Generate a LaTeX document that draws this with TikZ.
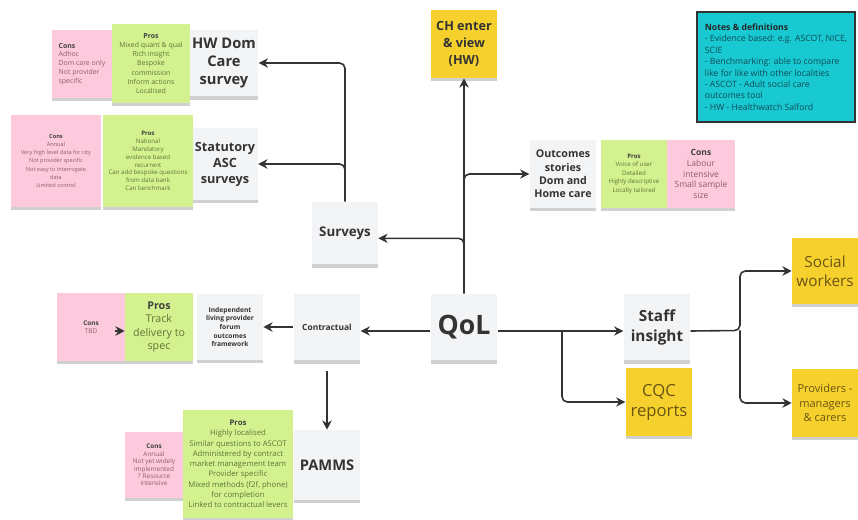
\documentclass[tikz,border=0pt]{standalone}
\usepackage{fontspec}
\setmainfont{Open Sans}
\usepackage{xcolor}
\usepackage{tikz}
\usetikzlibrary{arrows.meta}
\usetikzlibrary{shadows}
\definecolor{cardgrey}{HTML}{F3F4F6}
\definecolor{notegreen}{HTML}{D3F28F}
\definecolor{notepink}{HTML}{FCCADC}
\definecolor{noteyellow}{HTML}{F6D12E}
\definecolor{noteteal}{HTML}{18C9D1}
\definecolor{inkdark}{HTML}{333333}
\definecolor{inkgreen}{HTML}{5E7436}
\definecolor{inkpink}{HTML}{8C5C6C}
\definecolor{inkolive}{HTML}{6B5512}
\definecolor{inkteal}{HTML}{0F4B55}
\newcommand{\sz}[2]{\fontsize{#1}{#2}\selectfont}
\newcommand{\notehead}[1]{{\bfseries\color{black!75}#1}}
\tikzset{
  paper/.style={general shadow={fill=black!60, opacity=0.3, shadow yshift=-2.5pt}, inner sep=2pt, align=center},
  card/.style={paper, fill=cardgrey, minimum width=#1, minimum height=#1, text=inkdark},
  card/.default=50pt,
  pronote/.style={paper, fill=notegreen, minimum width=#1, minimum height=#1, text=inkgreen},
  pronote/.default=50pt,
  connote/.style={paper, fill=notepink, minimum width=#1, minimum height=#1, text=inkpink},
  connote/.default=50pt,
  sticky/.style={paper, fill=noteyellow, minimum width=#1, minimum height=#1, text=inkolive},
  sticky/.default=50pt,
  link/.style={-{Stealth[length=7pt,width=7pt]}, line width=1.2pt, draw=inkdark, rounded corners=4pt},
}

\begin{document}
\begin{tikzpicture}[
    x=0.75pt, y=-0.75pt,
    notebox/.style={draw=black!80, line width=1.5pt, fill=noteteal, align=left, minimum width=118.5pt, minimum height=82.5pt, inner sep=3pt, text=inkteal, font=\sz{6.5}{8.6}},
  ]
  \path[use as bounding box, fill=white] (0,0) rectangle (858,520);

  \node[card, font=\sz{11}{13.5}\bfseries] (hwdom) at (224,63) {HW Dom\\Care\\survey};
  \node[pronote=58.5pt, minimum height=59pt, font=\sz{5.2}{6.8}] (pros1) at (151,63.5) {\notehead{Pros}\\Mixed quant \& qual\\Rich insight\\Bespoke\\commission\\Inform actions\\Localised};
  \node[connote=45pt, minimum height=51pt, align=left, font=\sz{5.2}{6.6}] (cons1) at (82,64) {\notehead{Cons}\\Adhoc\\Dom care only\\Not provider\\specific};

  \node[card=48pt, minimum height=54pt, font=\sz{9.5}{12}\bfseries] (statasc) at (225,164) {Statutory\\ASC\\surveys};
  \node[pronote=68pt, minimum height=69pt, font=\sz{4.6}{5.9}] (pros2) at (148,161) {\notehead{Pros}\\National\\Mandatory\\evidence based\\recurrent\\Can add bespoke questions\\from data bank\\Can benchmark};
  \node[connote=68pt, minimum height=69pt, font=\sz{4.2}{6.2}] (cons2) at (56,161) {\notehead{Cons}\\Annual\\Very high level data for city\\Not provider specific\\Not easy to interrogate\\data\\Limited control};

  \node[card=49.5pt, minimum height=47pt, font=\sz{10}{12}\bfseries] (surveys) at (345,233) {Surveys};
  \node[sticky=49pt, minimum height=51pt, text=black!80, font=\sz{9.5}{12.75}\bfseries] (chview) at (464,44) {CH enter\\\& view\\(HW)};

  \node[card, minimum height=51pt, font=\sz{8}{10}\bfseries] (outcomes) at (563,174) {Outcomes\\stories\\Dom and\\Home care};
  \node[pronote, minimum height=51pt, font=\sz{4.6}{6.4}] (pros5) at (634,174) {\notehead{Pros}\\Voice of user\\Detailed\\Highly descriptive\\Locally tailored};
  \node[connote=51pt, font=\sz{6.4}{7.9}] (cons5) at (701,174) {\notehead{Cons}\\Labour\\intensive\\Small sample\\size};

  \node[notebox] (notes) at (776,67) {{\bfseries\color{black!85}Notes \& definitions}\\- Evidence based: e.g. ASCOT, NICE,\\SCIE\\- Benchmarking: able to compare\\like for like with other localities\\- ASCOT - Adult social care\\outcomes tool\\- HW - Healthwatch Salford};

  \node[card, font=\sz{20}{24}\bfseries] (qol) at (464,327) {QoL};
  \node[card, font=\sz{6.3}{8}\bfseries] (contract) at (327,327) {Contractual};
  \node[card=49.5pt, font=\sz{5}{6.4}\bfseries] (indep) at (230,327) {Independent\\living provider\\forum\\outcomes\\framework};
  \node[pronote=51pt, font=\sz{8}{10}] (pros3) at (159,327) {\notehead{Pros}\\Track\\delivery to\\spec};
  \node[connote=51pt, font=\sz{4.8}{6}] (cons3) at (91,327) {\notehead{Cons}\\TBD};

  \node[card, minimum height=52.5pt, font=\sz{11}{13}\bfseries] (pamms) at (327,465) {PAMMS};
  \node[pronote=82.5pt, minimum height=81pt, font=\sz{5.8}{7.7}] (pros4) at (238,464) {\notehead{Pros}\\Highly localised\\Similar questions to ASCOT\\Administered by contract\\market management team\\Provider specific\\Mixed methods (f2f, phone)\\for completion\\Linked to contractual levers};
  \node[connote=43.5pt, minimum height=49.5pt, font=\sz{4.8}{5.6}] (cons4) at (154,465) {\notehead{Cons}\\Annual\\Not yet widely\\implemented\\? Resource\\intensive};

  \node[card, font=\sz{11.5}{15}\bfseries] (staff) at (657,327) {Staff\\insight};
  \node[sticky, minimum height=51pt, font=\sz{12.5}{15}] (cqc) at (659,402) {CQC\\reports};
  \node[sticky=49.5pt, font=\sz{11.5}{14}] (social) at (825,271) {Social\\workers};
  \node[sticky=49.5pt, minimum height=51pt, font=\sz{8.3}{11}] (providers) at (825,403) {Providers -\\managers\\\& carers};

  \coordinate (split) at (562,330.5);
  \coordinate (fork) at (740,330.5);

  \draw[link] (surveys.north) |- (hwdom.east);
  \draw[link] (surveys.north) |- (statasc.east);
  \draw[link] (qol.north) -- (chview.south);
  \draw[link] (qol.north) |- (outcomes.west);
  \draw[link] (qol.north) |- ([yshift=-4pt]surveys.east);
  \draw[link] ([yshift=-3pt]qol.west) -- ([yshift=-3pt]contract.east);
  \draw[link, shorten <=8pt] (contract.south) -- (pamms.north);
  \draw[link] (contract.west) -- (indep.east);
  \draw[link] ([yshift=-3pt]qol.east) -- ([yshift=-3pt]staff.west);
  \draw[link] (split) |- (cqc.west);
  \draw[link] ([yshift=-3pt]staff.east) -- (fork) |- (social.west);
  \draw[link] (fork) |- (providers.west);
  \draw[link] ([xshift=-7pt,yshift=-3pt]pros3.west) -- ([yshift=-3pt]pros3.west);
\end{tikzpicture}
\end{document}
